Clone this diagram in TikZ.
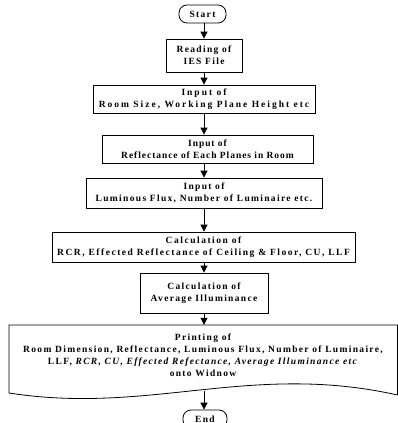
\documentclass[tikz,border=0pt]{standalone}
\usepackage{fontspec}
\setmainfont{Liberation Serif}
\usetikzlibrary{arrows.meta}
\tikzset{
  lbl/.style={font=\fontsize{9.5}{12}\selectfont\bfseries\addfontfeature{LetterSpace=#1}},
  lbl/.default=14,
  box/.style={draw, line width=0.8pt, rectangle, inner sep=0pt, align=center, lbl},
  term/.style={box, rounded corners=8pt},
  flow/.style={line width=0.8pt, -{Triangle[length=7pt,width=7pt]}},
  edge/.style={line width=0.8pt}
}
\begin{document}
\begin{tikzpicture}[x=1pt,y=-1pt]
\useasboundingbox (0,0) rectangle (398,423);

\node[term, minimum width=47pt, minimum height=18pt] (start) at (202.5,14) {Start};
\node[box, minimum width=76pt, minimum height=33pt] (read) at (204,55.5) {Reading of\\IES File};
\node[box, lbl=21, minimum width=222pt, minimum height=28pt] (room) at (204,99) {Input of\\Room Size, Working Plane Height etc};
\node[box, lbl=10, minimum width=211pt, minimum height=28pt] (refl) at (207.5,149) {Input of\\Reflectance of Each Planes in Room};
\node[box, minimum width=236pt, minimum height=30pt] (lum) at (204,193) {Input of\\Luminous Flux, Number of Luminaire etc.};
\node[box, lbl=16, minimum width=303pt, minimum height=30pt] (rcr) at (203.5,247) {Calculation of\\RCR, Effected Reflectance of Ceiling \& Floor, CU, LLF};
\node[box, minimum width=128pt, minimum height=40pt] (avg) at (204,293) {Calculation of\\Average Illuminance};

% document-shaped output block
\node[minimum width=388pt, minimum height=68pt, inner sep=0pt] (print) at (203,359) {};
\draw[edge] (397.5,395) -- (397.5,325) -- (9,325) -- (9,393)
  .. controls (150,415) and (250,362) .. (397.5,395);
\node[lbl, align=center, inner sep=0pt] (ptext) at (203,355)
  {Printing of\\Room Dimension, Reflectance, Luminous Flux, Number of Luminaire,\\
   LLF, \textit{RCR, CU, Effected Refectance, Average Illuminance etc}\\onto Widnow};
\coordinate (wave) at (204,391);

\node[term, minimum width=44pt, minimum height=18pt] (end) at (205,419) {End};

\draw[flow] (start.south -| read.north) -- (read.north);
\draw[flow] (read.south) -- (room.north -| read.south);
\draw[flow] (room.south) -- (room.south |- refl.north);
\draw[flow] (lum.north |- refl.south) -- (lum.north);
\draw[flow] (lum.south) -- (lum.south |- rcr.north);
\draw[flow] (avg.north |- rcr.south) -- (avg.north);
\draw[flow] (avg.south) -- (avg.south |- print.north);
\draw[flow] (wave) -- (wave |- end.north);
\end{tikzpicture}
\end{document}
